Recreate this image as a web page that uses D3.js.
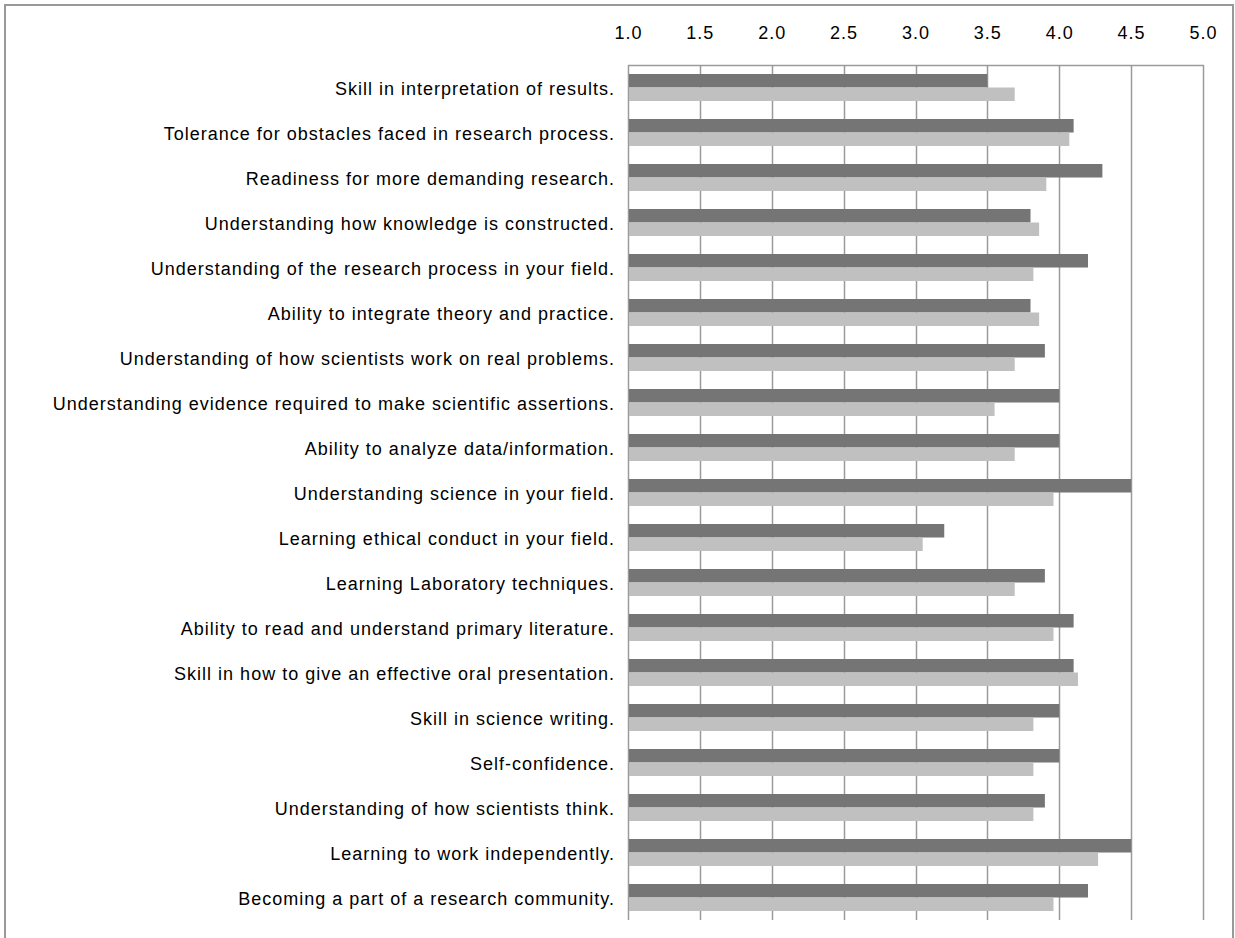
<!DOCTYPE html>
<html>
<head>
<meta charset="utf-8">
<script src="https://cdn.jsdelivr.net/npm/d3@7"></script>
<style>
  html, body { margin: 0; padding: 0; background: #fff; }
  svg { display: block; }
  text { font-family: "Liberation Sans", Arial, sans-serif; font-size: 18px; fill: #000; letter-spacing: 1px; }
</style>
</head>
<body>
<svg id="chart" width="1235" height="938"></svg>
<script>
// Survey items, top to bottom
const categories = [
  "Skill in interpretation of results.",
  "Tolerance for obstacles faced in research process.",
  "Readiness for more demanding research.",
  "Understanding how knowledge is constructed.",
  "Understanding of the research process in your field.",
  "Ability to integrate theory and practice.",
  "Understanding of how scientists work on real problems.",
  "Understanding evidence required to make scientific assertions.",
  "Ability to analyze data/information.",
  "Understanding science in your field.",
  "Learning ethical conduct in your field.",
  "Learning Laboratory techniques.",
  "Ability to read and understand primary literature.",
  "Skill in how to give an effective oral presentation.",
  "Skill in science writing.",
  "Self-confidence.",
  "Understanding of how scientists think.",
  "Learning to work independently.",
  "Becoming a part of a research community."
];

// Mean ratings, first (dark) series
const seriesA = [3.50, 4.10, 4.30, 3.80, 4.20, 3.80, 3.90, 4.00, 4.00, 4.50,
                 3.20, 3.90, 4.10, 4.10, 4.00, 4.00, 3.90, 4.50, 4.20];
// Mean ratings, second (light) series
const seriesB = [3.69, 4.07, 3.91, 3.86, 3.82, 3.86, 3.69, 3.55, 3.69, 3.96,
                 3.05, 3.69, 3.96, 4.13, 3.82, 3.82, 3.82, 4.27, 3.96];

const tickValues = [1.0, 1.5, 2.0, 2.5, 3.0, 3.5, 4.0, 4.5, 5.0];
const seriesKeys = ["a", "b"];
const seriesColors = { a: "#757575", b: "#c0c0c0" };

const svg = d3.select("#chart");

// outer frame
svg.append("rect")
  .attr("x", 5).attr("y", 5)
  .attr("width", 1228).attr("height", 960)
  .attr("fill", "none")
  .attr("stroke", "#999")
  .attr("stroke-width", 2);

const plot = { left: 628, right: 1203, top: 65, bottom: 920 };

const x = d3.scaleLinear().domain([1, 5]).range([plot.left, plot.right]);
const y = d3.scaleBand().domain(categories)
  .range([plot.top, plot.bottom]).paddingInner(0.4).paddingOuter(0.2);
const ySub = d3.scaleBand().domain(seriesKeys).range([0, y.bandwidth()]);

// vertical gridlines
svg.append("g").selectAll("line")
  .data(tickValues).join("line")
  .attr("x1", d => Math.round(x(d)) + 0.5).attr("x2", d => Math.round(x(d)) + 0.5)
  .attr("y1", plot.top).attr("y2", plot.bottom)
  .attr("stroke", "#9a9a9a").attr("stroke-width", 1.5);

// top axis line
svg.append("line")
  .attr("x1", plot.left).attr("x2", plot.right + 1)
  .attr("y1", plot.top + 0.5).attr("y2", plot.top + 0.5)
  .attr("stroke", "#9a9a9a").attr("stroke-width", 1.5);

// top axis labels
const axis = d3.axisTop(x).tickValues(tickValues).tickFormat(d3.format(".1f")).tickSize(0).tickPadding(0);
const gAxis = svg.append("g").attr("transform", "translate(0,39)").call(axis);
gAxis.select(".domain").remove();
gAxis.selectAll("text")
  .attr("y", 0).attr("dy", 0)
  .style("font-family", '"Liberation Sans", Arial, sans-serif')
  .style("font-size", "18px").style("letter-spacing", "1px").attr("fill", "#000");

// bars
const rows = categories.map((c, i) => ({ cat: c, a: seriesA[i], b: seriesB[i] }));
const gRows = svg.append("g").selectAll("g")
  .data(rows).join("g")
  .attr("transform", d => `translate(0,${y(d.cat)})`);

gRows.selectAll("rect")
  .data(d => seriesKeys.map(k => ({ key: k, value: d[k] })))
  .join("rect")
  .attr("x", x(1) + 1)
  .attr("y", d => ySub(d.key))
  .attr("width", d => x(d.value) - x(1) - 1)
  .attr("height", ySub.bandwidth())
  .attr("fill", d => seriesColors[d.key]);

// category labels
svg.append("g").selectAll("text")
  .data(categories).join("text")
  .attr("x", 615)
  .attr("y", d => y(d) + y.bandwidth() / 2 + 7)
  .attr("text-anchor", "end")
  .text(d => d);
</script>
</body>
</html>
